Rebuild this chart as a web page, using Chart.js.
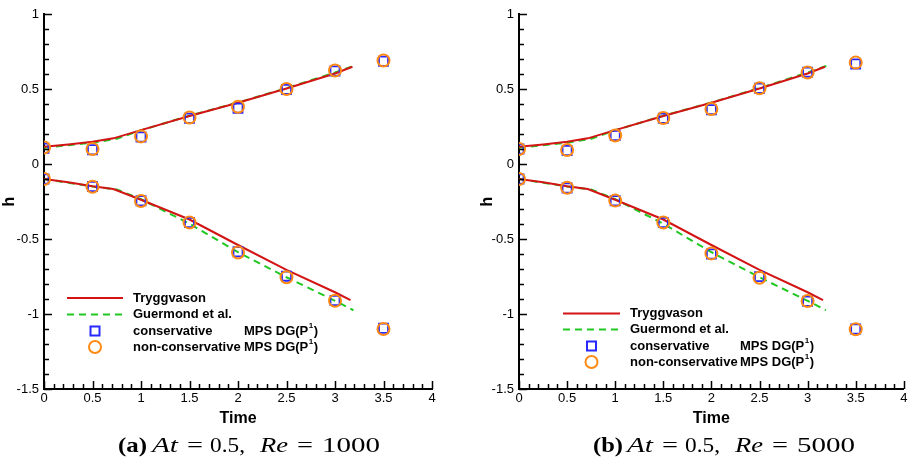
<!DOCTYPE html>
<html><head><meta charset="utf-8">
<script src="https://cdn.jsdelivr.net/npm/chart.js@4"></script>
<style>
html,body{margin:0;padding:0;background:#fff;width:912px;height:461px;overflow:hidden}
.panel{position:absolute;top:0;width:456px;height:461px}
#pa{left:0}#pb{left:456px}
</style></head><body>
<div class="panel" id="pa"><canvas id="ca" width="456" height="461"></canvas></div>
<div class="panel" id="pb"><canvas id="cb" width="456" height="461"></canvas></div>
<script>
// ---- data ----
const xTickValues = [0, 0.5, 1, 1.5, 2, 2.5, 3, 3.5, 4];
const yTickValues = [-1.5, -1, -0.5, 0, 0.5, 1];

const trygTimeUpper = [0, 0.25, 0.5, 0.715, 1.0, 1.5, 2.0, 2.5, 3.0, 3.18];
const trygHUpper    = [0.115, 0.13, 0.148, 0.171, 0.226, 0.32, 0.408, 0.503, 0.603, 0.648];
const trygTimeLower = [0, 0.25, 0.5, 0.715, 1.0, 1.5, 2.0, 2.5, 3.0, 3.16];
const trygHLower    = [-0.1, -0.122, -0.148, -0.167, -0.238, -0.37, -0.54, -0.706, -0.855, -0.908];

const guerTimeUpper = [0, 0.25, 0.5, 0.75, 1.0, 1.5, 2.0, 2.5, 3.0, 3.2];
const guerHUpper    = [0.108, 0.125, 0.142, 0.168, 0.225, 0.322, 0.41, 0.506, 0.61, 0.655];
const guerTimeLower = [0, 0.25, 0.5, 0.75, 1.0, 1.5, 2.0, 2.5, 3.0, 3.19];
const guerHLower    = [-0.1, -0.125, -0.15, -0.17, -0.235, -0.398, -0.588, -0.755, -0.912, -0.975];

const mpsTime = [0, 0.5, 1, 1.5, 2, 2.5, 3, 3.5];
// panel (a) At=0.5, Re=1000
const consUpperA = [0.105, 0.095, 0.18, 0.305, 0.372, 0.497, 0.62, 0.685];
const consLowerA = [-0.1, -0.15, -0.245, -0.39, -0.585, -0.748, -0.91, -1.095];
const nonUpperA  = [0.11, 0.1, 0.184, 0.31, 0.382, 0.5, 0.623, 0.69];
const nonLowerA  = [-0.1, -0.152, -0.247, -0.39, -0.59, -0.755, -0.912, -1.1];
// panel (b) At=0.5, Re=5000
const consUpperB = [0.1, 0.09, 0.19, 0.305, 0.362, 0.505, 0.612, 0.667];
const consLowerB = [-0.1, -0.16, -0.245, -0.39, -0.6, -0.751, -0.915, -1.1];
const nonUpperB  = [0.1, 0.093, 0.19, 0.307, 0.367, 0.505, 0.61, 0.676];
const nonLowerB  = [-0.1, -0.158, -0.244, -0.39, -0.596, -0.758, -0.913, -1.102];

const legendLabels = ['Tryggvason', 'Guermond et al.', 'conservative', 'non-conservative '];

// ---- style ----
const RED = '#d21414', GREEN = '#22c822', BLUE = '#2828ff', ORANGE = '#ff8a14';
const SANS = '"Liberation Sans", Arial, Helvetica, sans-serif';
const SERIF = '"Liberation Serif", "Times New Roman", serif';

function pts(xs, ys) { return xs.map((x, i) => ({x: x, y: ys[i]})); }

const decor = {
  id: 'decor',
  afterDraw(chart, args, o) {
    const ctx = chart.ctx;
    const xs = chart.scales.x, ys = chart.scales.y;
    const L = chart.chartArea.left, B = chart.chartArea.bottom;
    ctx.save();
    ctx.strokeStyle = '#000';
    ctx.lineWidth = 1.5;
    // inward ticks
    for (let i = 0; i <= 40; i++) {
      const v = i / 10;
      const px = Math.round(xs.getPixelForValue(v)) + 0.5;
      const len = (i % 5 === 0) ? 8 : 5;
      ctx.beginPath(); ctx.moveTo(px, B); ctx.lineTo(px, B - len); ctx.stroke();
    }
    for (let i = -15; i <= 10; i++) {
      const v = i / 10;
      const py = Math.round(ys.getPixelForValue(v)) + 0.5;
      const len = (i % 5 === 0) ? 8 : 5;
      ctx.beginPath(); ctx.moveTo(L, py); ctx.lineTo(L + len, py); ctx.stroke();
    }
    // legend
    const lg = o.legend;
    const x0 = L + lg.lineStart, x1 = L + lg.lineEnd, tx = L + lg.text, mx = L + lg.mps;
    const xm = (x0 + x1) / 2;
    ctx.lineWidth = 2;
    ctx.strokeStyle = RED;
    ctx.beginPath(); ctx.moveTo(x0, lg.rows[0]); ctx.lineTo(x1, lg.rows[0]); ctx.stroke();
    ctx.strokeStyle = GREEN; ctx.setLineDash([7, 5]);
    ctx.beginPath(); ctx.moveTo(x0, lg.rows[1]); ctx.lineTo(x1, lg.rows[1]); ctx.stroke();
    ctx.setLineDash([]);
    ctx.strokeStyle = BLUE;
    ctx.strokeRect(xm - 4.5, lg.rows[2] - 4.5, 9, 9);
    ctx.strokeStyle = ORANGE;
    ctx.beginPath(); ctx.arc(xm, lg.rows[3], 6, 0, Math.PI * 2); ctx.stroke();
    ctx.fillStyle = '#000';
    ctx.textBaseline = 'middle';
    ctx.textAlign = 'left';
    ctx.font = 'bold 13px ' + SANS;
    for (let i = 0; i < 4; i++) ctx.fillText(legendLabels[i], tx, lg.rows[i]);
    for (let i = 2; i < 4; i++) {
      ctx.font = 'bold 13px ' + SANS;
      const a = 'MPS DG(P';
      ctx.fillText(a, mx, lg.rows[i]);
      let w = ctx.measureText(a).width;
      ctx.font = 'bold 8px ' + SANS;
      ctx.fillText('1', mx + w + 0.5, lg.rows[i] - 5);
      const w2 = ctx.measureText('1').width;
      ctx.font = 'bold 13px ' + SANS;
      ctx.fillText(')', mx + w + w2 + 1, lg.rows[i]);
    }
    // caption
    const cp = o.caption;
    ctx.textBaseline = 'alphabetic';
    for (const s of cp.segs) {
      ctx.font = (s.f || '') + ' 21px ' + SERIF;
      const mw = ctx.measureText(s.t).width;
      ctx.save();
      ctx.translate(L + s.dx, cp.base);
      ctx.scale(s.w / mw, 1);
      ctx.fillText(s.t, 0, 0);
      ctx.restore();
    }
    ctx.restore();
  }
};

function makeChart(id, p) {
  const datasets = [
    {label: 'non-conservative MPS DG(P1)', data: pts(mpsTime, p.nonU), showLine: false, order: 0,
     pointStyle: 'circle', pointRadius: 6, pointBorderWidth: 2, pointBorderColor: ORANGE, pointBackgroundColor: 'rgba(0,0,0,0)'},
    {label: 'non-conservative MPS DG(P1) lower', data: pts(mpsTime, p.nonL), showLine: false, order: 0,
     pointStyle: 'circle', pointRadius: 6, pointBorderWidth: 2, pointBorderColor: ORANGE, pointBackgroundColor: 'rgba(0,0,0,0)'},
    {label: 'conservative MPS DG(P1)', data: pts(mpsTime, p.consU), showLine: false, order: 1,
     pointStyle: 'rect', pointRadius: 6.4, pointBorderWidth: 1.8, pointBorderColor: BLUE, pointBackgroundColor: 'rgba(0,0,0,0)'},
    {label: 'conservative MPS DG(P1) lower', data: pts(mpsTime, p.consL), showLine: false, order: 1,
     pointStyle: 'rect', pointRadius: 6.4, pointBorderWidth: 1.8, pointBorderColor: BLUE, pointBackgroundColor: 'rgba(0,0,0,0)'},
    {label: 'Tryggvason', data: pts(trygTimeUpper, trygHUpper), showLine: true, pointRadius: 0, order: 2,
     borderColor: RED, borderWidth: 2, tension: 0},
    {label: 'Tryggvason lower', data: pts(trygTimeLower, trygHLower), showLine: true, pointRadius: 0, order: 2,
     borderColor: RED, borderWidth: 2, tension: 0},
    {label: 'Guermond et al.', data: pts(guerTimeUpper, guerHUpper), showLine: true, pointRadius: 0, order: 3,
     borderColor: GREEN, borderWidth: 2, borderDash: [7, 5], tension: 0},
    {label: 'Guermond et al. lower', data: pts(guerTimeLower, guerHLower), showLine: true, pointRadius: 0, order: 3,
     borderColor: GREEN, borderWidth: 2, borderDash: [7, 5], tension: 0}
  ];
  return new Chart(document.getElementById(id), {
    type: 'scatter',
    data: {datasets: datasets},
    plugins: [decor],
    options: {
      responsive: false, animation: false, devicePixelRatio: 1, events: [],
      layout: {padding: {left: p.padLeft, right: p.padRight, top: 14, bottom: 0}},
      plugins: {legend: {display: false}, tooltip: {enabled: false},
        decor: {legend: p.legend, caption: p.caption}},
      scales: {
        x: {type: 'linear', min: 0, max: 4,
          afterBuildTicks(s) { s.ticks = xTickValues.map(v => ({value: v})); },
          afterFit(s) { s.height = 461 - 389; },
          grid: {display: false, drawTicks: false},
          border: {display: true, color: '#000', width: 2},
          ticks: {color: '#000', padding: 2, font: {family: SANS, size: 13}, maxRotation: 0,
            callback: v => String(v)},
          title: {display: true, text: 'Time', color: '#000', font: {family: SANS, size: 16, weight: 'bold'},
            padding: {top: 0, bottom: 32.4}}
        },
        y: {type: 'linear', min: -1.5, max: 1,
          afterBuildTicks(s) { s.ticks = yTickValues.map(v => ({value: v})); },
          afterFit(s) { s.width = 44; },
          grid: {display: false, drawTicks: false},
          border: {display: true, color: '#000', width: 2},
          ticks: {color: '#000', padding: 5, font: {family: SANS, size: 13},
            callback: v => String(v)},
          title: {display: true, text: 'h', color: '#000', font: {family: SANS, size: 16, weight: 'bold'},
            padding: {top: p.hPad, bottom: 0}}
        }
      }
    }
  });
}

makeChart('ca', {
  nonU: nonUpperA, nonL: nonLowerA, consU: consUpperA, consL: consLowerA,
  padLeft: 0, padRight: 24, hPad: 0.4,
  legend: {lineStart: 23, lineEnd: 79, text: 89, mps: 200, rows: [298, 314.5, 331, 347]},
  caption: {base: 452, segs: [
    {t: '(a)', f: 'bold', dx: 74, w: 29},
    {t: 'At', f: 'italic', dx: 108, w: 26},
    {t: '=', dx: 143, w: 16},
    {t: '0.5,', dx: 166, w: 35},
    {t: 'Re', f: 'italic', dx: 216, w: 28},
    {t: '=', dx: 253, w: 16},
    {t: '1000', dx: 278, w: 58}
  ]}
});
makeChart('cb', {
  nonU: nonUpperB, nonL: nonLowerB, consU: consUpperB, consL: consLowerB,
  padLeft: 19, padRight: 6, hPad: 3.4,
  legend: {lineStart: 44, lineEnd: 101, text: 111, mps: 221, rows: [313.5, 329.5, 346, 362]},
  caption: {base: 452, segs: [
    {t: '(b)', f: 'bold', dx: 74, w: 30},
    {t: 'At', f: 'italic', dx: 108, w: 26},
    {t: '=', dx: 143, w: 16},
    {t: '0.5,', dx: 166, w: 35},
    {t: 'Re', f: 'italic', dx: 216, w: 28},
    {t: '=', dx: 253, w: 16},
    {t: '5000', dx: 278, w: 58}
  ]}
});
</script>
</body></html>
